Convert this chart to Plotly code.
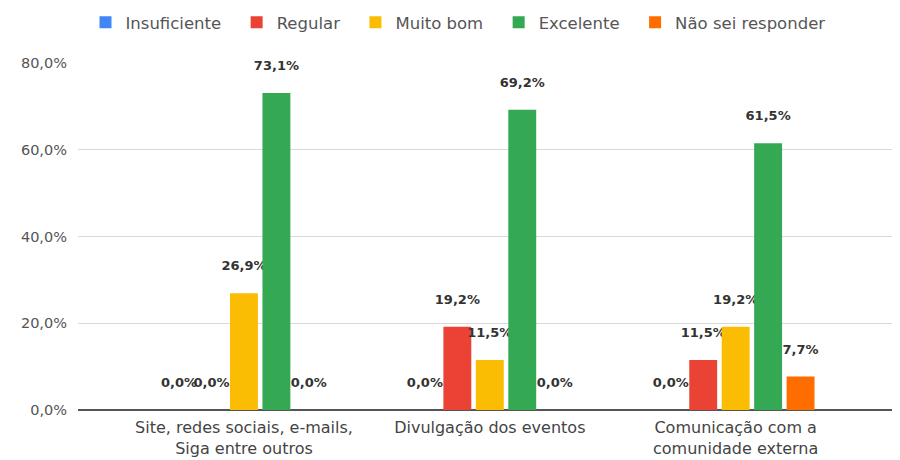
import plotly.graph_objects as go

categories = ["Site, redes sociais, e-mails,<br>Siga entre outros",
              "Divulgação dos eventos",
              "Comunicação com a<br>comunidade externa"]
series_names = ["Insuficiente", "Regular", "Muito bom", "Excelente", "Não sei responder"]
insuficiente = [0.0, 0.0, 0.0]
regular = [0.0, 19.2, 11.5]
muito_bom = [26.9, 11.5, 19.2]
excelente = [73.1, 69.2, 61.5]
nao_sei = [0.0, 0.0, 7.7]
colors = ["#4285F4", "#EA4335", "#FBBC04", "#34A853", "#FF6D01"]
y_ticks = [0, 20, 40, 60, 80]
y_tick_text = [f"{v:.1f}".replace(".", ",") + "%" for v in y_ticks]

FONT = "DejaVu Sans, Arial, sans-serif"
series_values = [insuficiente, regular, muito_bom, excelente, nao_sei]

fig = go.Figure()
for name, vals, col in zip(series_names, series_values, colors):
    texts = ["<b>" + f"{v:.1f}".replace(".", ",") + "%</b><br>\u00a0" for v in vals]
    fig.add_trace(go.Bar(
        name=name + "\u00a0\u00a0", x=categories, y=vals, marker_color=col,
        marker_line_width=0,
        text=texts, textposition="outside", cliponaxis=False,
        textfont=dict(size=13, color="#333333", family=FONT),
        constraintext="none",
    ))

# page body has an 8px default margin, so the figure is sized to fit 900x460
fig.update_layout(
    width=892, height=452,
    barmode="group", bargap=0.34, bargroupgap=0.14,
    plot_bgcolor="white", paper_bgcolor="white",
    margin=dict(l=70, r=7, t=55, b=50, autoexpand=False),
    font=dict(family=FONT, color="#444444", size=15),
    legend=dict(orientation="h", x=0.473, xanchor="center", y=1.167, yanchor="top",
                font=dict(size=16.5, color="#555555", family=FONT)),
    showlegend=True,
)
fig.update_xaxes(range=[-0.675, 2.64], showline=False, ticks="", automargin=False,
                 tickfont=dict(size=16, color="#444444", family=FONT), ticklabelstandoff=6)
fig.update_yaxes(range=[0, 80], tickvals=y_ticks, ticktext=y_tick_text, automargin=False,
                 gridcolor="#d9d9d9", zeroline=True, zerolinecolor="#555555", zerolinewidth=1.5,
                 tickfont=dict(size=14.5, color="#555555", family=FONT), ticklabelstandoff=10)
fig.write_html("out.html")
